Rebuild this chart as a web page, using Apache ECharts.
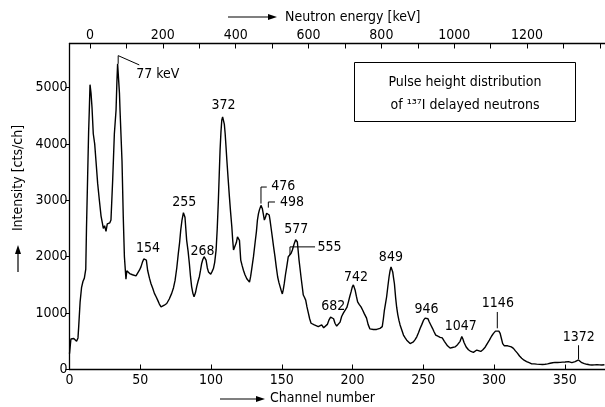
<!DOCTYPE html>
<html>
<head>
<meta charset="utf-8">
<script src="https://cdn.jsdelivr.net/npm/echarts@6/dist/echarts.min.js"></script>
<style>
html,body{margin:0;padding:0;background:#fff;}
#chart{width:605px;height:407px;}
</style>
</head>
<body>
<div id="chart"></div>
<script>
// ---- data ----
const channels = [0,1,2,3,4,5,6,6.5,7.5,8.5,9.5,10.5,11.5,12,12.8,13.5,14,14.5,15.2,15.9,16.8,17.8,18.7,19.9,21.1,22.3,23.2,23.9,24.8,25.8,26.7,27.7,28.5,29.3,30.5,31.7,32.9,33.5,34,34.8,35.3,35.7,37.1,38,38.8,39.9,40.5,41.5,42.5,43.5,44.5,45.8,47,48.2,49.4,50.5,51.5,52.5,53.5,54.3,55.2,56.5,57.6,58.8,60,61.2,62.3,63.5,64.7,66,67,68.7,70.5,72.2,73.5,74.6,75.8,76.9,77.8,78.6,79.5,80.5,81.6,82.8,83.8,84.7,85.5,86.3,87.2,88,89,89.9,90.8,91.8,92.6,93.4,94.2,95.1,96.5,97.4,98.2,99,99.8,100.8,101.7,102.6,103.6,104.4,105.2,105.8,106.4,107,107.6,108.2,108.8,109.4,110,110.6,111.2,112.1,113,113.8,114.7,115.3,115.9,116.5,117.1,117.9,118.7,119.4,120.1,121,121.9,122.9,124,125.3,126.2,127.2,128,128.8,130,131.2,132.1,132.8,133.5,134.2,135.3,136.3,137,137.7,138.5,139.3,140.5,141.1,141.7,142.5,143.3,144.2,145.2,146.1,147.1,148,148.8,149.6,150.4,151.1,151.8,152.6,153.5,154.6,155.2,155.8,156.6,157.5,158.2,158.9,159.8,160.4,161,161.6,162.2,162.9,163.6,164.4,165.2,166,166.9,167.8,168.8,169.7,170.7,171.8,173,174.4,175.8,177,178.2,179.6,181,182.2,183.4,184.5,185.7,186.6,187.6,188.8,190,191.2,192.3,193.5,194.7,196,197.1,198,199,199.8,200.6,201.2,201.8,202.7,203.6,204.8,206,207.2,208.3,209.9,211,212.3,213.5,214.7,216,217,218.2,219.4,220.2,221,221.8,222.5,223.3,224.1,225,225.8,226.5,227.2,227.8,228.4,229,229.6,230.5,231.2,232,232.8,233.6,234.8,236,237.2,238.3,239.5,240.7,241.8,243,244.2,245.4,246.6,247.8,249,250.1,251.3,252.5,253.3,254.1,255.3,256.5,257.6,258.8,260.3,261.9,263.4,264.9,265.4,267.1,268.9,270.6,272.4,274.2,276,277.2,278,278.8,280.3,281.9,283.6,285.4,286.6,287.8,289.2,290.6,292.1,293.7,295.2,296.7,298.2,299.6,301,302.4,303.4,304.3,305.2,306.1,307.3,308.5,309.6,310.8,312.2,313.7,315.1,316.5,318,319.5,321.2,323,324.8,326.6,328.3,330.1,332.5,334.2,336,337.8,339.6,341.4,343.1,344.9,346.7,348.4,350.2,351.5,352.6,353.8,355,356.2,357.3,358.5,359.7,360.8,362,363.8,365.6,367.4,369.2,371,372.7,374.5,376.2,378];
const counts = [280,540,570,550,530,500,560,760,1200,1450,1560,1620,1780,2500,3400,4200,4600,5050,4900,4650,4180,4000,3700,3300,3000,2720,2600,2500,2550,2450,2580,2610,2600,2650,3350,4180,4600,5100,5420,5400,4900,4600,3700,2700,2000,1600,1750,1780,1700,1720,1680,1650,1660,1650,1760,1820,1900,1960,1980,1940,1760,1620,1520,1440,1350,1290,1230,1160,1110,1130,1140,1170,1250,1350,1450,1580,1800,2060,2250,2470,2650,2780,2700,2290,2100,1880,1650,1470,1350,1290,1360,1470,1560,1650,1760,1880,1950,2000,1940,1800,1730,1700,1690,1740,1790,1900,2120,2500,3000,3450,3890,4200,4420,4480,4470,4350,4180,3950,3710,3380,3060,2800,2530,2300,2120,2100,2120,2250,2350,2380,2290,1940,1850,1760,1680,1610,1580,1550,1650,1790,2000,2260,2450,2650,2760,2830,2910,2850,2750,2650,2700,2770,2800,2740,2650,2500,2350,2180,2000,1820,1640,1540,1470,1400,1340,1420,1530,1680,1820,2000,2030,2020,2060,2120,2180,2240,2300,2290,2260,2100,1940,1790,1640,1480,1320,1280,1230,1110,1000,900,820,790,790,760,760,780,790,740,710,800,880,930,965,900,820,770,750,840,940,1000,1000,1100,1200,1290,1380,1460,1500,1470,1410,1300,1200,1150,1110,1050,990,910,800,720,700,710,700,710,720,730,750,760,900,1050,1170,1290,1480,1640,1750,1820,1790,1730,1620,1520,1260,1100,970,870,790,700,610,560,520,490,460,470,490,530,580,650,730,800,870,910,925,900,850,790,730,670,610,590,570,560,500,470,420,380,390,400,440,500,585,540,480,400,350,320,305,330,345,330,320,350,395,460,520,590,640,680,700,680,640,550,460,420,405,420,430,400,375,330,290,240,200,165,140,120,100,100,95,90,88,92,100,110,120,127,125,127,130,133,125,139,128,121,130,139,150,170,145,121,105,92,85,80,82,86,82,80,83];

const channelTicks = [0,50,100,150,200,250,300,350];
const intensityTicks = [0,1000,2000,3000,4000,5000];
const energyTicks = [0,100,200,300,400,500,600,700,800,900,1000,1100,1200,1300,1400];
const energyLabels = [0,200,400,600,800,1000,1200];

const peakLabels = ['77 keV','154','255','268','372','476','498','577','555','682','742','849','946','1047','1146','1372'];
const peakLabelCh = [62.4,55.5,81.1,94,108.8,151.1,157.2,160.3,183.7,186.4,202.5,227.1,252.3,276.5,302.7,359.9];
const peakLabelVal = [5230,2150,2956,2100,4681,3243,2956,2483,2174,1127,1637,1982,1067,757,1172,566];

const leaders = [
  [[34.4,5420],[34.4,5565],[49.3,5400]],
  [[135.3,2942],[135.3,3235],[139.4,3235]],
  [[140.5,2870],[140.5,2970],[145.2,2970]],
  [[155.8,2030],[155.8,2174],[173.5,2174]],
  [[302.3,730],[302.3,1020]],
  [[359.7,185],[359.7,430]]
];

// ---- chart ----
const FONT = "'DejaVu Sans Condensed','DejaVu Sans',sans-serif";
const INK = '#000';
const chart = echarts.init(document.getElementById('chart'), null, {renderer:'canvas'});

const series = [{
  type:'line', xAxisIndex:0, yAxisIndex:0,
  data: channels.map((c,i)=>[c,counts[i]]),
  showSymbol:false, symbol:'none', silent:true,
  lineStyle:{color:INK,width:1.4}
},{
  type:'scatter', xAxisIndex:0, yAxisIndex:0, silent:true,
  symbolSize:0,
  itemStyle:{opacity:1,color:INK},
  data: peakLabelCh.map((c,i)=>[c,peakLabelVal[i]]),
  label:{show:true, position:'inside', formatter:p=>peakLabels[p.dataIndex],
    fontFamily:FONT, fontSize:14, color:INK, opacity:1}
}];
leaders.forEach(l=>series.push({
  type:'line', xAxisIndex:0, yAxisIndex:0, data:l, symbol:'none', silent:true,
  lineStyle:{color:INK,width:1}
}));

const option = {
  animation:false,
  backgroundColor:'#fff',
  grid:{left:69.5,right:0,top:43.5,bottom:37.5,containLabel:false},
  xAxis:[{
    type:'value', position:'bottom', min:0, max:378.4,
    axisLine:{show:true,lineStyle:{color:INK,width:1.3}},
    axisTick:{show:true,inside:true,length:5,customValues:channelTicks,lineStyle:{color:INK,width:1}},
    axisLabel:{show:true,customValues:channelTicks,margin:4,fontFamily:FONT,fontSize:14,color:INK,formatter:v=>String(v)},
    splitLine:{show:false}
  },{
    type:'value', position:'top', min:-56.3, max:1414,
    axisLine:{show:true,lineStyle:{color:INK,width:1.3}},
    axisTick:{show:true,inside:true,length:5,customValues:energyTicks,lineStyle:{color:INK,width:1}},
    axisLabel:{show:true,customValues:energyLabels,margin:1,fontFamily:FONT,fontSize:14,color:INK,formatter:v=>String(v)},
    splitLine:{show:false}
  }],
  yAxis:[{
    type:'value', min:0, max:5780,
    axisLine:{show:true,lineStyle:{color:INK,width:1.3}},
    axisTick:{show:true,inside:false,length:4,customValues:intensityTicks,lineStyle:{color:INK,width:1}},
    axisLabel:{show:true,customValues:intensityTicks,margin:2,fontFamily:FONT,fontSize:14,color:INK,formatter:v=>String(v)},
    splitLine:{show:false}
  }],
  series:series,
  graphic:[
    {type:'rect',shape:{x:354.5,y:62.5,width:221,height:59},style:{fill:null,stroke:INK,lineWidth:1}},
    {type:'text',x:465,y:82,style:{text:'Pulse height distribution',fontFamily:FONT,fontSize:14,fill:INK,align:'center',verticalAlign:'middle'}},
    {type:'text',x:465,y:105,style:{text:'of \u00B9\u00B3\u2077I delayed neutrons',fontFamily:FONT,fontSize:14,fill:INK,align:'center',verticalAlign:'middle'}},
    // top axis name
    {type:'line',shape:{x1:228,y1:17,x2:270,y2:17},style:{stroke:INK,lineWidth:1.2}},
    {type:'polygon',shape:{points:[[268,14],[277,17],[268,20]]},style:{fill:INK}},
    {type:'text',x:285,y:17,style:{text:'Neutron energy [keV]',fontFamily:FONT,fontSize:14,fill:INK,align:'left',verticalAlign:'middle'}},
    // bottom axis name
    {type:'line',shape:{x1:220,y1:399,x2:258,y2:399},style:{stroke:INK,lineWidth:1.2}},
    {type:'polygon',shape:{points:[[256,396],[265,399],[256,402]]},style:{fill:INK}},
    {type:'text',x:270,y:398,style:{text:'Channel number',fontFamily:FONT,fontSize:14,fill:INK,align:'left',verticalAlign:'middle'}},
    // y axis name
    {type:'text',x:18,y:178,rotation:Math.PI/2,style:{text:'Intensity [cts/ch]',fontFamily:FONT,fontSize:14,fill:INK,align:'center',verticalAlign:'middle'}},
    {type:'line',shape:{x1:18,y1:272,x2:18,y2:252},style:{stroke:INK,lineWidth:1.2}},
    {type:'polygon',shape:{points:[[15,254],[18,245],[21,254]]},style:{fill:INK}}
  ]
};
chart.setOption(option);
</script>
</body>
</html>
